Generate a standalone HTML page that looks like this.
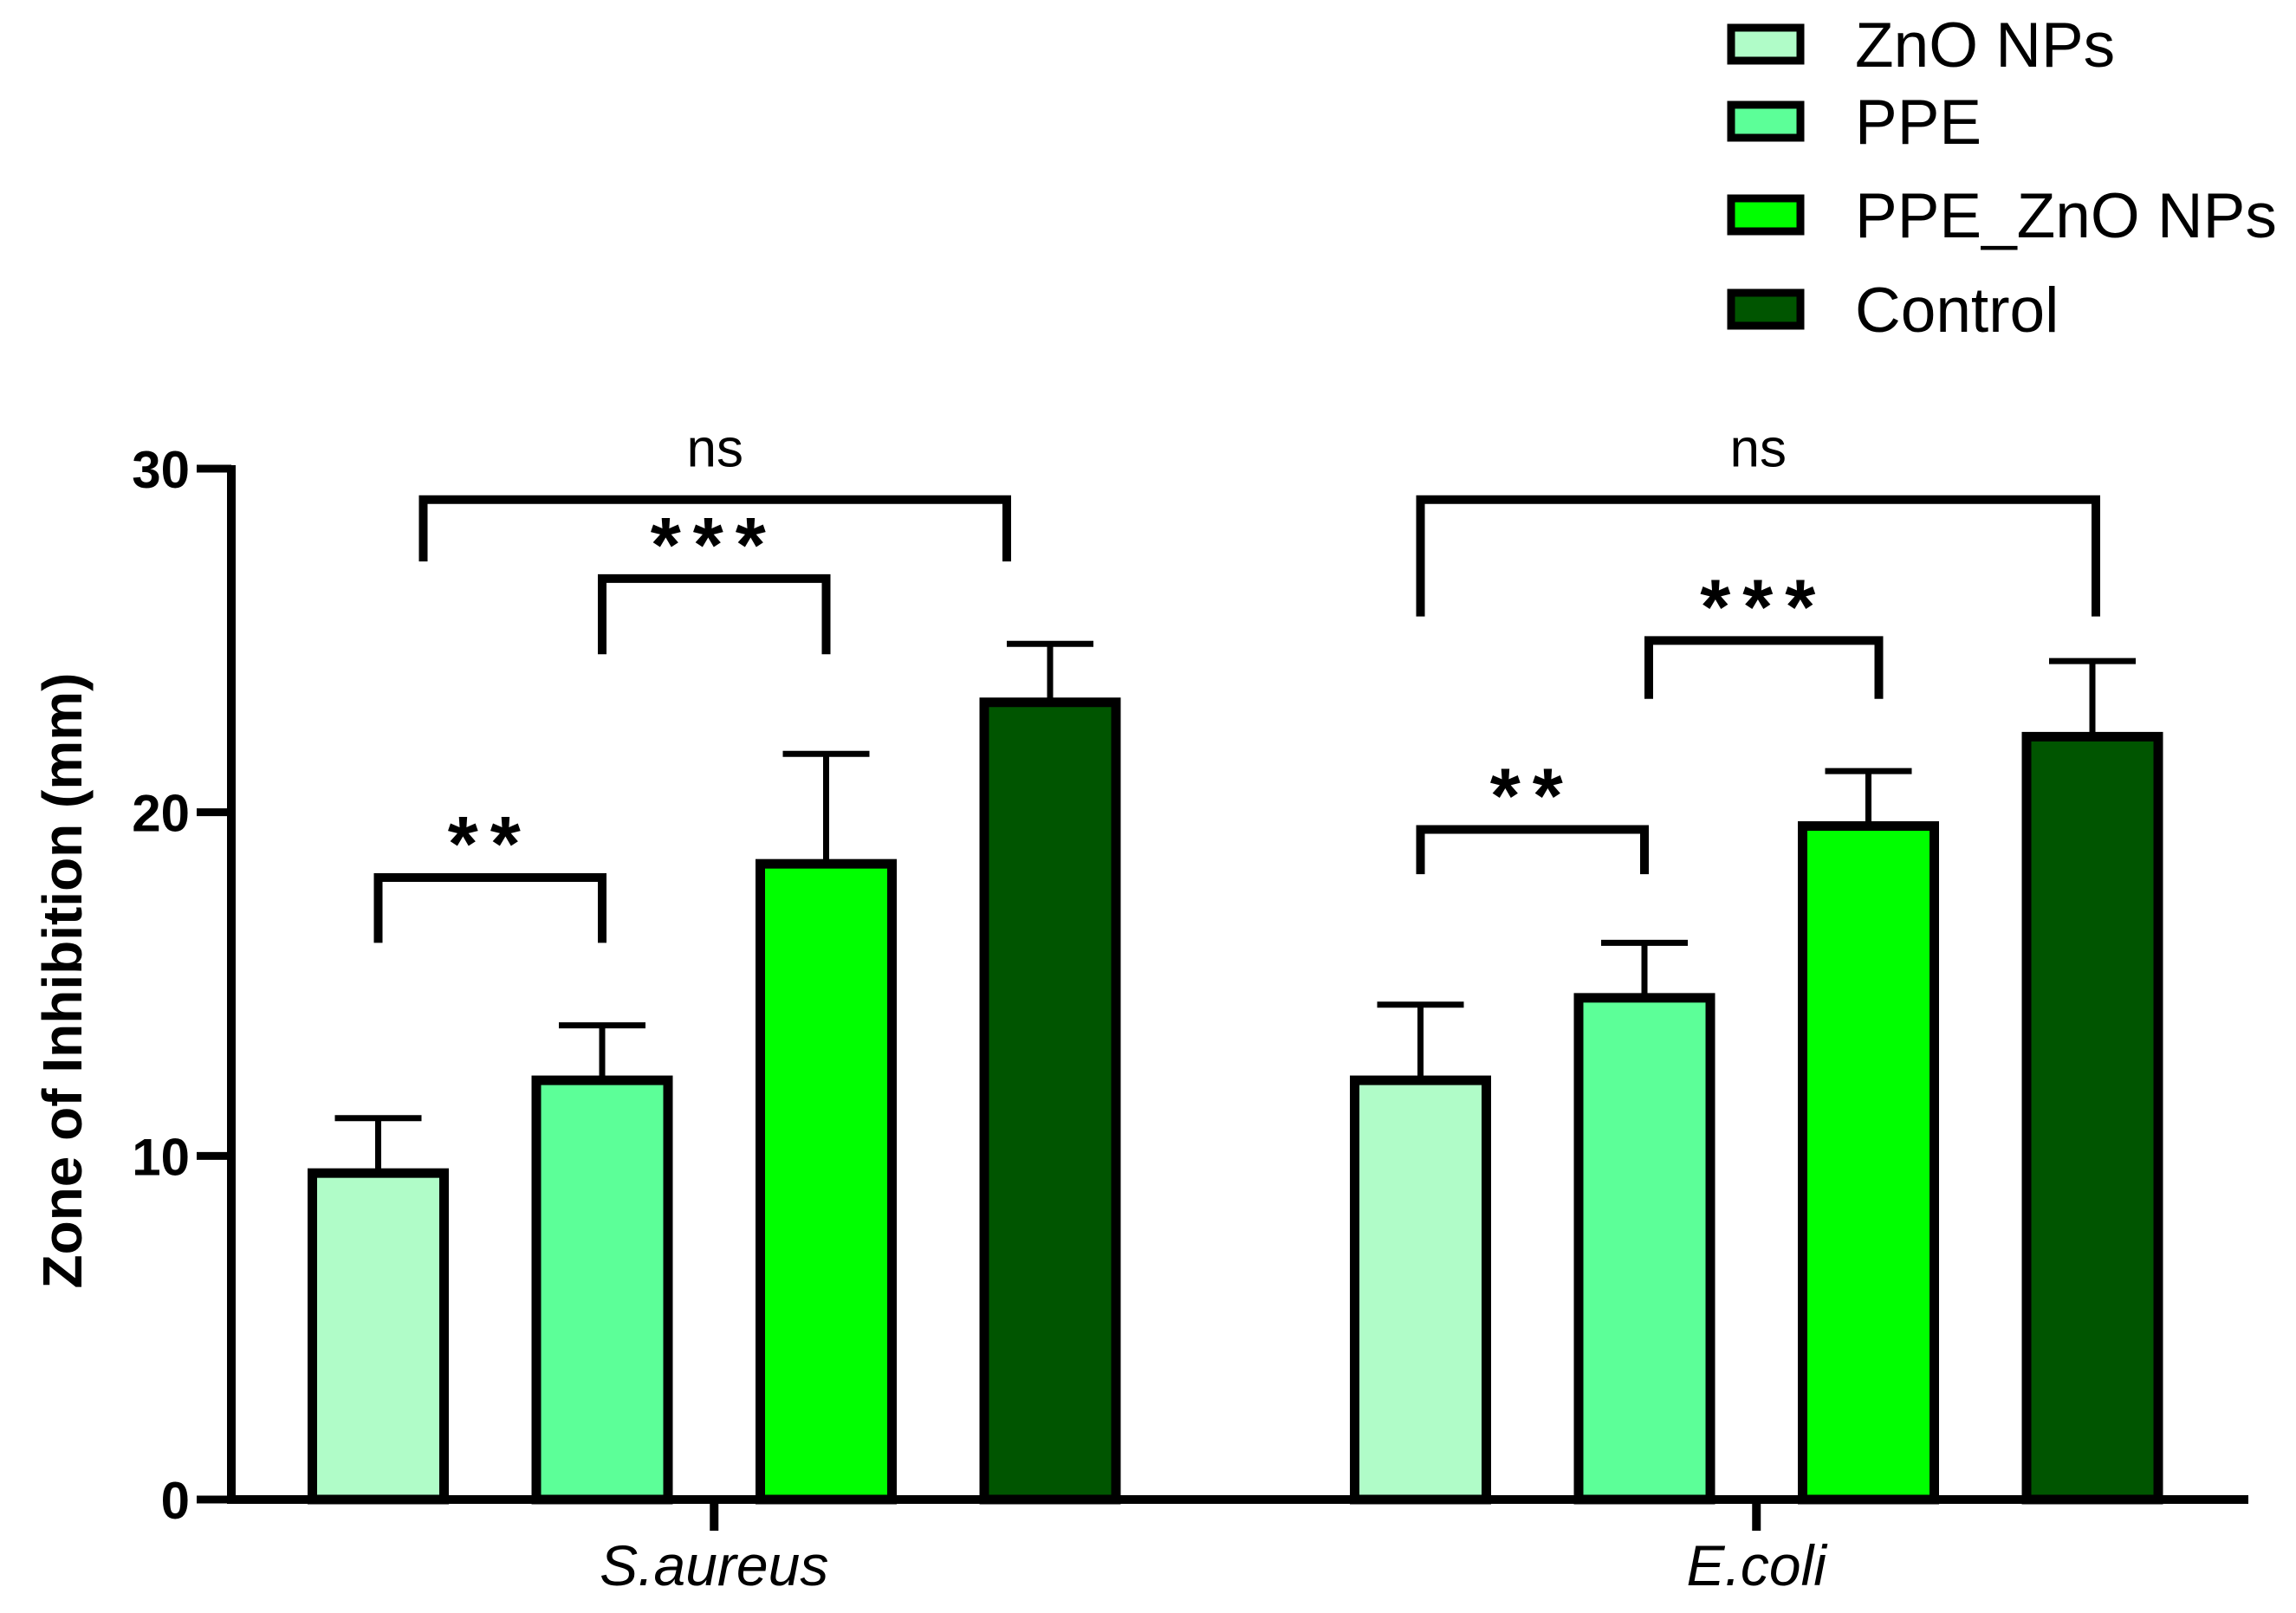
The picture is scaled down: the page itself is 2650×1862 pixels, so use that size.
<!DOCTYPE html>
<html><head><meta charset="utf-8"><style>
html,body{margin:0;padding:0;background:#fff;}
svg{display:block;font-family:"Liberation Sans",Arial,sans-serif;}
</style></head><body>
<svg id="chart" width="2650" height="1862" viewBox="0 0 2650 1862" xmlns="http://www.w3.org/2000/svg"></svg>
<script>
const groups = ["S.aureus", "E.coli"];
const seriesNames = ["ZnO NPs", "PPE", "PPE_ZnO NPs", "Control"];
const seriesColors = ["#b0fcc8", "#5cff98", "#00ff00", "#005500"];
const meansSA = [9.5, 12.2, 18.5, 23.2];
const meansEC = [12.2, 14.6, 19.6, 22.2];
const errSA = [1.6, 1.6, 3.2, 1.7];
const errEC = [2.2, 1.6, 1.6, 2.2];
const yTicks = [0, 10, 20, 30];
// brackets: group, from-bar, to-bar, bar-level value, leg-bottom value, label
const bracketGroup = [0, 0, 0, 1, 1, 1];
const bracketFrom = [0, 1, 0, 0, 1, 0];
const bracketTo = [1, 2, 3, 1, 2, 3];
const bracketTop = [18.1, 26.8, 29.1, 19.5, 25.0, 29.1];
const bracketBottom = [16.2, 24.6, 27.3, 18.2, 23.3, 25.7];
const bracketLabel = ["**", "***", "ns", "**", "***", "ns"];

const NS = "http://www.w3.org/2000/svg";
const svg = document.getElementById("chart");
const Y0 = 1731, Y30 = 541, AX = 267, AXR = 2595;
function y(v){ return Y0 - (v/30)*(Y0-Y30); }
const groupStart = [355, 1558], barStep = 258.5, barW = 163;
function barX(g,i){ return groupStart[g] + i*barStep; }
function groupCenter(g){ return (barX(g,0) + barX(g,3) + barW)/2; }
function el(tag, attrs, parent){
  const e = document.createElementNS(NS, tag);
  for (const k in attrs) e.setAttribute(k, attrs[k]);
  (parent||svg).appendChild(e);
  return e;
}
const allMeans = [meansSA, meansEC], allErr = [errSA, errEC];
// pixel nudges for bracket ends (styling only)
const nudgeL = [0, 0, 52, 0, 5, 0];
const nudgeR = [0, 0, -50, 0, 12, 4];

for (let g=0; g<groups.length; g++){
  for (let i=0; i<4; i++){
    const v = allMeans[g][i], e = allErr[g][i];
    const cx = barX(g,i) + barW/2;
    const eb = el("line", {x1:cx, x2:cx, y1:y(v), y2:y(v+e), stroke:"#000", "stroke-width":7});
    
    
    const cap = el("line", {x1:cx-50, x2:cx+50, y1:y(v+e), y2:y(v+e), stroke:"#000", "stroke-width":7});
    
    
    const r = el("rect", {x:barX(g,i)+5.5, y:y(v), width:barW-11, height:Y0-y(v), fill:seriesColors[i], stroke:"#000", "stroke-width":11});
    
    
  }
}

const ya = el("line", {x1:AX, x2:AX, y1:Y30-4, y2:Y0+5, stroke:"#000", "stroke-width":10});


const xa = el("line", {x1:AX-5, x2:AXR, y1:Y0, y2:Y0, stroke:"#000", "stroke-width":10});


for (const t of yTicks){
  const tk = el("line", {x1:AX-40, x2:AX, y1:y(t), y2:y(t), stroke:"#000", "stroke-width":9});
  
  
  const lb = el("text", {x:AX-48, y:y(t)+22, "text-anchor":"end", "font-size":60, "font-weight":"bold"});
  lb.textContent = t;
  
  
}
for (let g=0; g<groups.length; g++){
  const cx = groupCenter(g);
  const tk = el("line", {x1:cx, x2:cx, y1:Y0, y2:Y0+36, stroke:"#000", "stroke-width":10});
  
  
  const lb = el("text", {x:cx, y:1830, "text-anchor":"middle", "font-size":66, "font-style":"italic"});
  lb.textContent = groups[g];
  
  
}
const yt = el("text", {x:0, y:0, "text-anchor":"middle", "font-size":64, "font-weight":"bold", transform:"translate(94,1132) rotate(-90)"});
yt.textContent = "Zone of Inhibition (mm)";



for (let b=0; b<bracketLabel.length; b++){
  const g = bracketGroup[b];
  const x1 = barX(g, bracketFrom[b]) + barW/2 + nudgeL[b], x2 = barX(g, bracketTo[b]) + barW/2 + nudgeR[b];
  const p = el("polyline", {points:`${x1},${y(bracketBottom[b])} ${x1},${y(bracketTop[b])} ${x2},${y(bracketTop[b])} ${x2},${y(bracketBottom[b])}`, fill:"none", stroke:"#000", "stroke-width":10});
  
  
  const isNs = bracketLabel[b] === "ns";
  const t = el("text", {x:(x1+x2)/2, y: isNs ? y(bracketTop[b])-38 : y(bracketTop[b])-8, "text-anchor":"middle", "font-size": isNs ? 62 : 90, "font-weight": isNs ? "normal" : "bold", "letter-spacing": isNs ? 0 : 14});
  t.textContent = bracketLabel[b];
  
  
}

const legendY = [51, 140, 248, 357];
for (let i=0; i<seriesNames.length; i++){
  const g = el("g", {});
  
  
  const s = el("rect", {x:1998, y:legendY[i]-19, width:80, height:38, fill:seriesColors[i], stroke:"#000", "stroke-width":9}, g);
  
  
  const t = el("text", {x:2141, y:legendY[i]+26, "font-size":73}, g);
  t.textContent = seriesNames[i];
  
  
}
</script>
</body></html>
